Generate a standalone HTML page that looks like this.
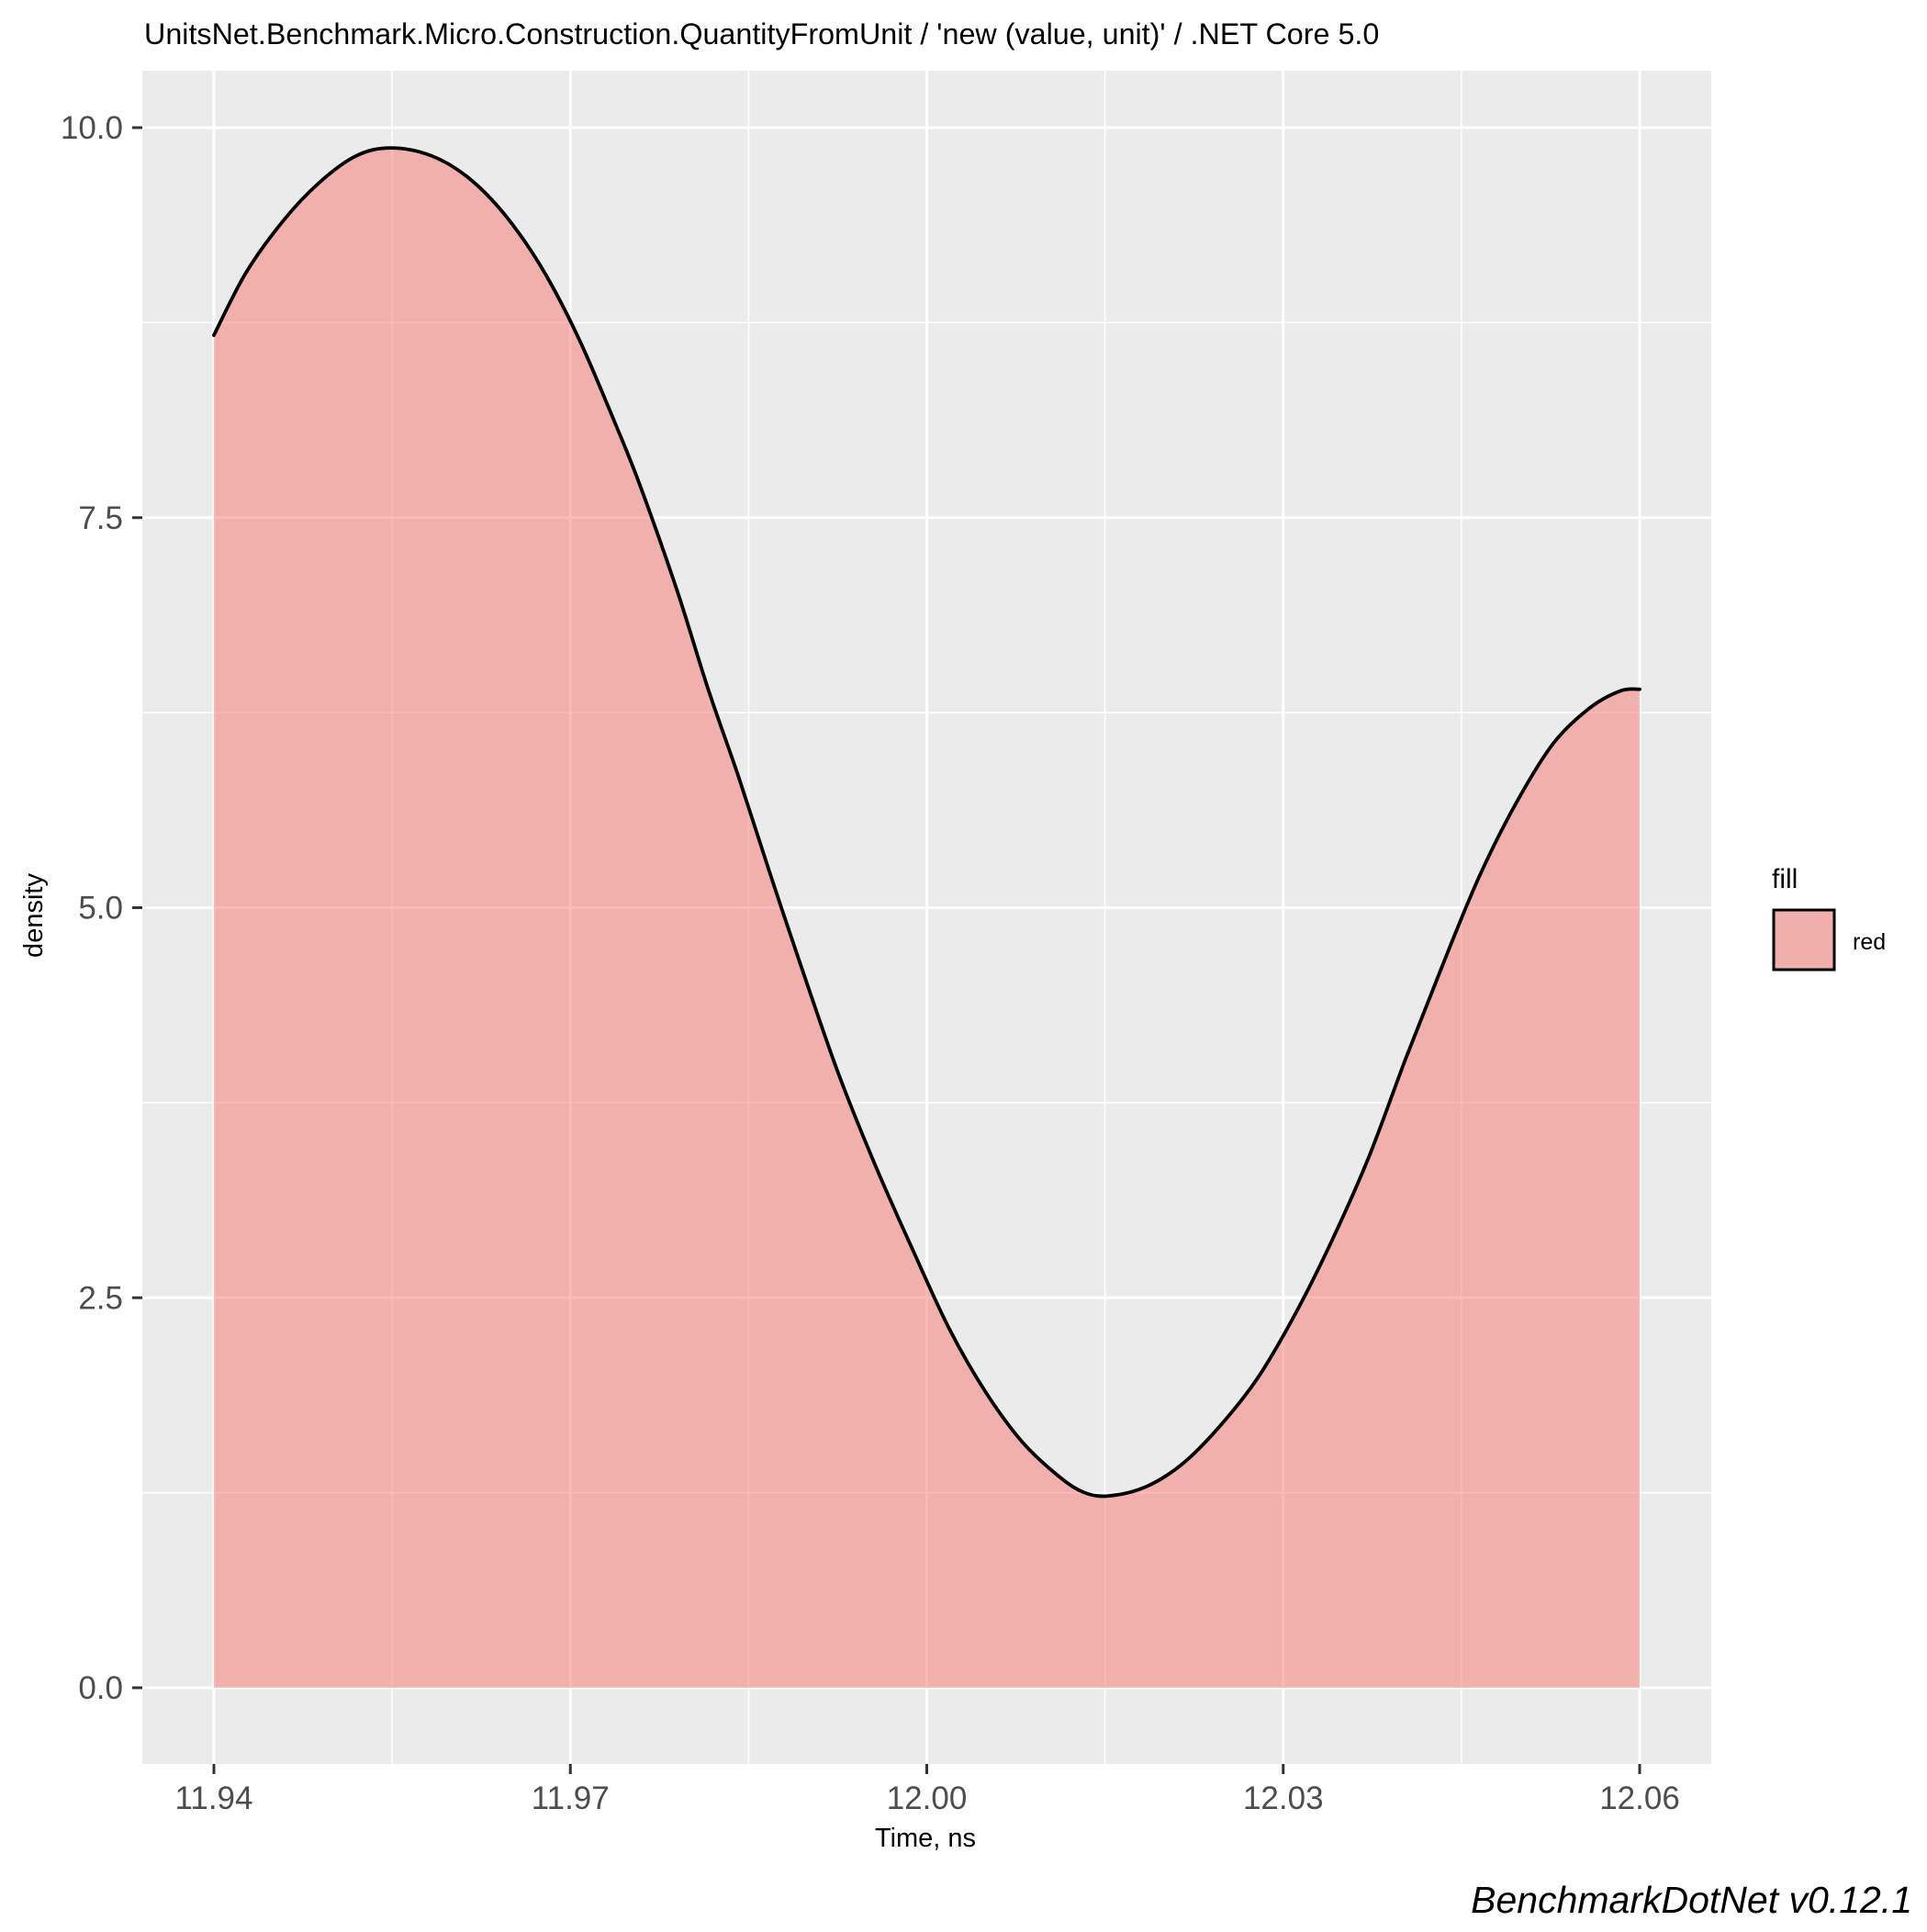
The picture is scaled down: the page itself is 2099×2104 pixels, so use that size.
<!DOCTYPE html>
<html><head><meta charset="utf-8"><style>
html,body{margin:0;padding:0;background:#fff;}
svg text{font-family:"Liberation Sans",sans-serif;}
</style></head><body>
<svg id="chart" width="2099" height="2099" viewBox="0 0 2099 2099" xmlns="http://www.w3.org/2000/svg">
<rect x="0" y="0" width="2099" height="2099" fill="#fff"/>
<text x="157" y="48" font-size="32.3" fill="#000">UnitsNet.Benchmark.Micro.Construction.QuantityFromUnit / 'new (value, unit)' / .NET Core 5.0</text>
<rect x="155" y="77" width="1709" height="1844" fill="#EBEBEB"/>
<g id="grid"></g>
<g id="marks"></g>
<g id="axes"></g>
<text x="1008" y="2011" font-size="29" text-anchor="middle" fill="#000">Time, ns</text>
<text transform="translate(46,997) rotate(-90)" font-size="29" text-anchor="middle" fill="#000">density</text>
<text x="1930" y="967" font-size="30" fill="#000">fill</text>
<rect x="1932" y="991" width="66" height="65" fill="#F1AFAC" stroke="#000" stroke-width="3"/>
<text x="2018" y="1034" font-size="25" fill="#000">red</text>
<text x="2083" y="2083" font-size="41" font-style="italic" text-anchor="end" fill="#000">BenchmarkDotNet v0.12.1</text>
</svg>
<script>
const xs = [11.940,11.9427,11.9458,11.9489,11.9520,11.9549,11.9583,11.9614,11.9645,11.9676,11.9707,11.9738,11.9759,11.9790,11.9816,11.9842,11.9868,11.9894,11.9925,11.9956,11.9988,12.0019,12.0050,12.0081,12.0112,12.0133,12.0154,12.0185,12.0216,12.0247,12.0278,12.0309,12.0340,12.0372,12.0403,12.0434,12.0465,12.0496,12.0527,12.0558,12.0584,12.0600];
const densities = [8.67,9.07,9.40,9.65,9.82,9.87,9.82,9.68,9.44,9.10,8.65,8.10,7.70,7.03,6.40,5.83,5.22,4.63,3.95,3.36,2.81,2.30,1.89,1.57,1.35,1.25,1.23,1.29,1.44,1.68,1.98,2.38,2.85,3.40,4.03,4.63,5.20,5.67,6.05,6.28,6.39,6.40];
const xTicks = [11.94,11.97,12.00,12.03,12.06];
const xTickLabels = ["11.94","11.97","12.00","12.03","12.06"];
const yTicks = [0,2.5,5,7.5,10];
const yTickLabels = ["0.0","2.5","5.0","7.5","10.0"];

const NS="http://www.w3.org/2000/svg";
const PL=155, PR=1864, PT=77, PB=1921;
function sx(v){return 233 + (v-11.94)/0.12*(1786-233);}
function sy(v){return 1838 - v/10*(1838-139);}
function mk(tag,attrs,parent){const e=document.createElementNS(NS,tag);for(const k in attrs)e.setAttribute(k,attrs[k]);parent.appendChild(e);return e;}
const grid=document.getElementById('grid'), marks=document.getElementById('marks'), axes=document.getElementById('axes');

for(let i=0;i<xTicks.length-1;i++){
  const v=(xTicks[i]+xTicks[i+1])/2;
  const l=mk('line',{x1:sx(v),x2:sx(v),y1:PT,y2:PB,stroke:'#fff','stroke-width':1.5},grid);
  
  
}
for(let i=0;i<yTicks.length-1;i++){
  const v=(yTicks[i]+yTicks[i+1])/2;
  const l=mk('line',{x1:PL,x2:PR,y1:sy(v),y2:sy(v),stroke:'#fff','stroke-width':1.5},grid);
  
  
}
xTicks.forEach((v,i)=>{
  const l=mk('line',{x1:sx(v),x2:sx(v),y1:PT,y2:PB,stroke:'#fff','stroke-width':3},grid);
  
  
  const t=mk('line',{x1:sx(v),x2:sx(v),y1:PB,y2:PB+11,stroke:'#333','stroke-width':3},axes);
  
  
  const tx=mk('text',{x:sx(v),y:1970,'font-size':35,'text-anchor':'middle',fill:'#4D4D4D'},axes);
  tx.textContent=xTickLabels[i];
  
  
});
yTicks.forEach((v,i)=>{
  const l=mk('line',{x1:PL,x2:PR,y1:sy(v),y2:sy(v),stroke:'#fff','stroke-width':3},grid);
  
  
  const t=mk('line',{x1:PL-11,x2:PL,y1:sy(v),y2:sy(v),stroke:'#333','stroke-width':3},axes);
  
  
  const tx=mk('text',{x:134,y:sy(v)+12,'font-size':35,'text-anchor':'end',fill:'#4D4D4D'},axes);
  tx.textContent=yTickLabels[i];
  
  
});
// smooth path via Catmull-Rom
const P=xs.map((x,i)=>[sx(x),sy(densities[i])]);
let curve='';
for(let i=0;i<P.length-1;i++){
  const p0=P[Math.max(0,i-1)],p1=P[i],p2=P[i+1],p3=P[Math.min(P.length-1,i+2)];
  const c1=[p1[0]+(p2[0]-p0[0])/6,p1[1]+(p2[1]-p0[1])/6];
  const c2=[p2[0]-(p3[0]-p1[0])/6,p2[1]-(p3[1]-p1[1])/6];
  curve+=' C'+c1[0].toFixed(1)+','+c1[1].toFixed(1)+' '+c2[0].toFixed(1)+','+c2[1].toFixed(1)+' '+p2[0].toFixed(1)+','+p2[1].toFixed(1);
}
const start='M'+P[0][0].toFixed(1)+','+P[0][1].toFixed(1);
const area=mk('path',{d:'M'+P[0][0]+','+sy(0)+' L'+P[0][0].toFixed(1)+','+P[0][1].toFixed(1)+curve+' L'+P[P.length-1][0]+','+sy(0)+' Z',fill:'#F8766D','fill-opacity':0.5,stroke:'none'},marks);


const line=mk('path',{d:start+curve,fill:'none',stroke:'#000','stroke-width':3.8,'stroke-linejoin':'round','stroke-linecap':'round'},marks);


</script>
</body></html>
